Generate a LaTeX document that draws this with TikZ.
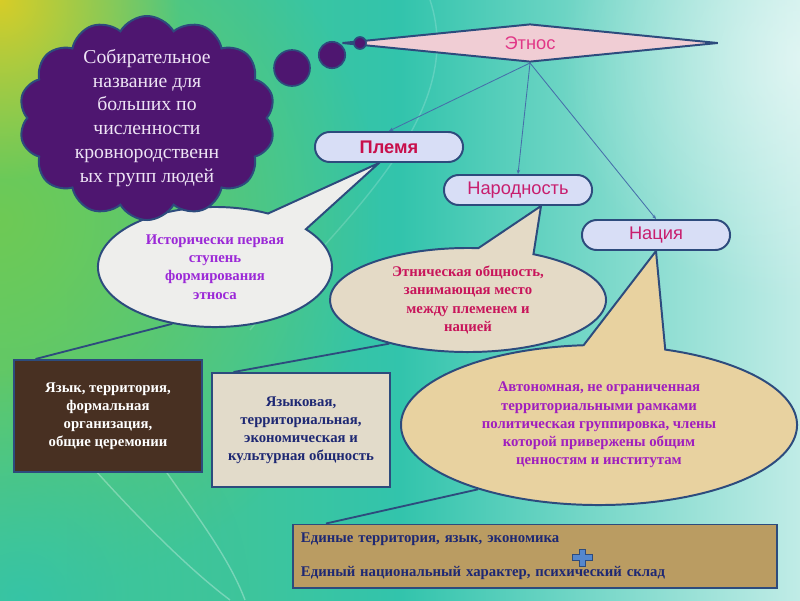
\documentclass[tikz,border=0pt]{standalone}
\usepackage{fontspec}
\setmainfont{Liberation Serif}
\setsansfont{Liberation Sans}
\usepackage{xcolor}
\usepackage{tikz}
\usetikzlibrary{shapes.geometric, shapes.symbols, shapes.callouts, arrows.meta, positioning, calc, fadings}
\definecolor{bgyellow}{RGB}{215,205,40}
\definecolor{bggreen}{RGB}{110,202,85}
\definecolor{bgteal}{RGB}{50,196,172}
\definecolor{bglight}{RGB}{232,247,247}
\definecolor{edgeblue}{RGB}{45,75,125}
\definecolor{linkblue}{RGB}{70,110,170}
\definecolor{cloudpurple}{RGB}{78,22,112}
\definecolor{cloudtext}{RGB}{238,228,245}
\definecolor{diamondpink}{RGB}{240,205,212}
\definecolor{titlepink}{RGB}{225,55,135}
\definecolor{pilllilac}{RGB}{216,222,246}
\definecolor{pilltext}{RGB}{200,30,110}
\definecolor{tribered}{RGB}{200,15,75}
\definecolor{bubblegray}{RGB}{238,238,236}
\definecolor{bubblesand}{RGB}{228,218,198}
\definecolor{bubbletan}{RGB}{232,210,160}
\definecolor{violettext}{RGB}{155,40,215}
\definecolor{plumtext}{RGB}{160,30,190}
\definecolor{crimsontext}{RGB}{200,20,90}
\definecolor{woodbrown}{RGB}{72,48,34}
\definecolor{linenbeige}{RGB}{226,219,202}
\definecolor{burlap}{RGB}{186,156,98}
\definecolor{navytext}{RGB}{30,40,115}
\definecolor{plusblue}{RGB}{85,135,205}
\tikzfading[name=softglow, inner color=transparent!0, outer color=transparent!100]
\pgfdeclarehorizontalshading{backdrop}{100bp}{color(0bp)=(bggreen); color(30bp)=(bgteal!60!bggreen);
    color(50bp)=(bgteal); color(82bp)=(bglight); color(100bp)=(bglight)}
\pgfdeclarelayer{back}
\pgfdeclarelayer{bubbles}
\pgfsetlayers{back,bubbles,main}

\begin{document}
\begin{tikzpicture}[x=0.025cm, y=-0.025cm,
    pill/.style={draw=edgeblue, line width=1.4pt, fill=pilllilac, rounded corners=0.37cm,
                 minimum width=3.7cm, minimum height=0.75cm,
                 font=\sffamily\fontsize{13}{15}\selectfont, text=pilltext},
    bubble/.style={ellipse callout, draw=edgeblue, line width=1.4pt, callout pointer arc=24,
                   inner sep=0pt, align=center, font=\rmfamily\bfseries\fontsize{10.5}{13}\selectfont},
    card/.style={draw=edgeblue, line width=1.4pt, inner sep=2pt, align=center,
                 font=\rmfamily\bfseries\fontsize{10.5}{12.8}\selectfont},
    puff/.style={circle, draw=edgeblue, line width=1.2pt, fill=cloudpurple, inner sep=0pt},
    link/.style={draw=linkblue, line width=0.6pt, -{Stealth[length=3pt, width=2.5pt]}},
    tie/.style={draw=edgeblue, line width=1.3pt}
]
    \useasboundingbox (0,0) rectangle (800,600);
    \begin{pgfonlayer}{back}
        \shade[shading=backdrop] (0,0) rectangle (800,600);
        \fill[bggreen, path fading=softglow] (0,220) circle (380);
        \fill[bgyellow, path fading=softglow] (0,0) circle (180);
        \fill[bgteal, path fading=softglow, opacity=0.85] (20,600) circle (230);
        \fill[white, path fading=softglow, opacity=0.5] (800,60) circle (240);
        \draw[white, opacity=0.18, line width=1pt] (430,0) .. controls (470,120) and (330,230) .. (250,330);
        \draw[white, opacity=0.3, line width=1pt] (95,470) .. controls (140,520) and (190,570) .. (230,600);
        \draw[white, opacity=0.3, line width=1pt] (165,470) .. controls (200,520) and (230,560) .. (245,600);
    \end{pgfonlayer}

    \node[cloud, cloud puffs=14, cloud puff arc=120, aspect=1.25, draw=edgeblue, line width=1.4pt,
          fill=cloudpurple, text=cloudtext, inner sep=-6pt, minimum width=6.4cm, minimum height=5.1cm,
          align=center, font=\rmfamily\fontsize{14}{17}\selectfont] (idea) at (147,118)
          {Собирательное\\название для\\больших по\\численности\\кровнородственн\\ых групп людей};

    \node[diamond, aspect=9, draw=edgeblue, line width=1.4pt, fill=diamondpink, minimum width=9.4cm,
          minimum height=0.95cm, inner sep=0pt, text=titlepink,
          font=\sffamily\fontsize{13}{15}\selectfont] (ethnos) at (530,43) {Этнос};
    \node[puff, minimum size=0.9cm] (dotA) at (292,68) {};
    \node[puff, minimum size=0.66cm] (dotB) at (332,55) {};
    \node[puff, minimum size=0.3cm] (dotC) at (360,43) {};

    \node[pill, font=\sffamily\bfseries\fontsize{13}{15}\selectfont, text=tribered] (tribe) at (389,147) {Племя};
    \node[pill] (folk) at (518,190) {Народность};
    \node[pill] (nation) at (656,235) {Нация};

    \draw[link] (ethnos.south) -- (tribe.north);
    \draw[link] (ethnos.south) -- (folk.north);
    \draw[link] (ethnos.south) -- (nation.north);

    \begin{pgfonlayer}{bubbles}
        \node[bubble, fill=bubblegray, text=violettext, minimum width=5.85cm, minimum height=3cm,
              callout absolute pointer={($(tribe.south)+(-10,0)$)}] (first) at (215,267)
              {Исторически первая\\ступень\\формирования\\этноса};
        \node[bubble, fill=bubblesand, text=crimsontext, minimum width=6.9cm, minimum height=2.6cm,
              callout absolute pointer={($(folk.south)+(23,0)$)}] (between) at (468,300)
              {Этническая общность,\\занимающая место\\между племенем и\\нацией};
        \node[bubble, fill=bubbletan, text=plumtext, minimum width=9.9cm, minimum height=4cm,
              callout absolute pointer={(nation.south)}] (polity) at (599,425)
              {Автономная, не ограниченная\\территориальными рамками\\политическая группировка, члены\\которой привержены общим\\ценностям и институтам};
    \end{pgfonlayer}

    \node[card, fill=woodbrown, text=white, minimum width=4.675cm, minimum height=2.8cm] (traits) at (108,416)
          {Язык, территория,\\формальная\\организация,\\общие церемонии};
    \node[card, fill=linenbeige, text=navytext, minimum width=4.425cm, minimum height=2.85cm] (bonds) at (301,430)
          {Языковая,\\территориальная,\\экономическая и\\культурная общность};
    \node[card, fill=burlap, text=navytext, minimum width=12.1cm, minimum height=1.575cm, align=left,
          text width=11.7cm] (unity) at (535,556)
          {Единые территория, язык, экономика\\[11pt]Единый национальный характер, психический склад};
    \filldraw[fill=plusblue, draw=edgeblue, line width=0.4pt] (572,554) -- (579,554) -- (579,549) -- (585,549)
          -- (585,554) -- (592,554) -- (592,560) -- (585,560) -- (585,566) -- (579,566) -- (579,560)
          -- (572,560) -- cycle;

    \draw[tie] (first.233) -- ($(traits.north west)+(22,0)$);
    \draw[tie] (between.209) -- ($(bonds.north west)+(22,0)$);
    \draw[tie] (polity.208) -- ($(unity.north west)+(34,0)$);
\end{tikzpicture}
\end{document}
